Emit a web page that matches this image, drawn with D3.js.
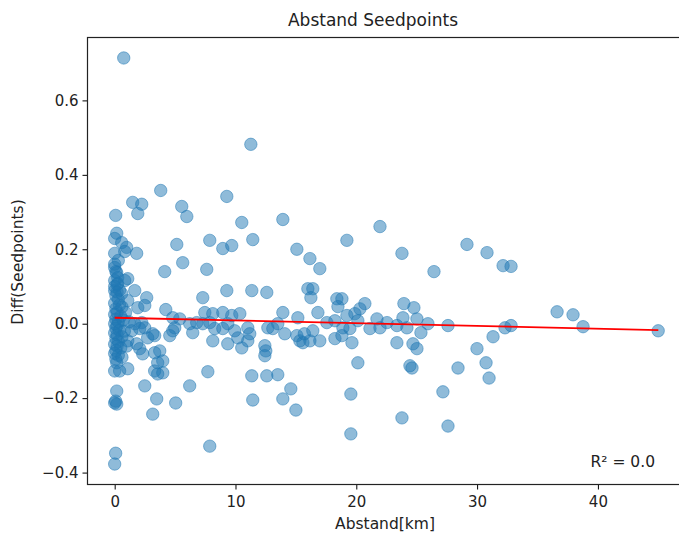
<!DOCTYPE html>
<html>
<head>
<meta charset="utf-8">
<script src="https://cdn.jsdelivr.net/npm/d3@7"></script>
<style>
  html, body { margin: 0; padding: 0; background: #fff; }
  svg { display: block; }
</style>
</head>
<body>
<svg id="chart" width="679" height="537"></svg>
<script>
// ---- data ----
const title = "Abstand Seedpoints";
const xLabel = "Abstand[km]";
const yLabel = "Diff(Seedpoints)";
const xTicks = [0, 10, 20, 30, 40];
const yTicks = [-0.4, -0.2, 0.0, 0.2, 0.4, 0.6];
const r2Text = "R² = 0.0";

const abstand = [
  0.75, 11.27, 3.81, 9.28, 1.49, 2.24, 1.91, 5.55, 5.97, 0.08,
  10.52, 13.92, 21.96, 19.22, 15.08, 16.16, 16.98, 23.78, 29.16, 30.82,
  32.15, 32.81, 26.43, 11.43, 7.87, 8.95, 9.69, 5.14, 5.63, 4.14,
  7.62, 0.17, 0.0, 0.58, 0.99, 0.83, 0.0, 1.82, 0.0, 0.17,
  0.25, 0.0, 0.25, 0.83, 1.08, 1.66, 2.65, 0.0, 0.58, 1.08,
  1.91, 2.49, 9.28, 11.35, 12.59, 7.29, 4.23, 4.81, 5.39, 4.97,
  4.81, 4.56, 7.46, 8.12, 8.95, 9.69, 10.36, 6.21, 6.79, 6.46,
  7.29, 7.87, 8.28, 8.95, 9.36, 9.94, 10.19, 11.02, 11.18, 11.02,
  10.52, 9.36, 8.12, 12.43, 12.51, 12.43, 12.68, 13.09, 13.50, 3.73,
  3.98, 3.98, 7.71, 11.35, 12.59, 13.50, 1.66, 2.24, 2.07, 3.15,
  2.73, 1.08, 1.82, 2.07, 2.32, 3.31, 0.17, 0.0, 0.41, 1.08,
  3.56, 3.31, 3.56, 2.49, 0.17, 6.21, 0.0, 0.17, 0.08, 3.48,
  5.05, 11.43, 3.15, 7.87, 0.08, 0.0,
  15.99, 16.40, 16.24, 18.39, 18.81, 18.48, 20.71, 20.30, 19.88, 23.94,
  24.77, 25.02, 13.92, 15.16, 16.82, 17.56, 19.22, 18.23, 18.89, 19.47,
  20.13, 21.13, 21.96, 22.54, 21.71, 23.36, 23.86, 24.19, 25.93, 27.59,
  25.35, 14.08, 15.08, 15.33, 15.58, 16.16, 16.40, 16.98, 18.23, 18.81,
  19.64, 23.36, 24.69, 25.02, 20.13, 24.44, 24.61, 28.42, 14.58, 13.92,
  15.00, 19.55, 27.17, 23.78, 27.59, 19.55,
  36.62, 37.94, 38.77, 44.99, 32.31, 32.81, 31.32, 29.99, 30.74, 30.99,
  1.41, 2.49, 3.31, 15.7,
  0.0, 0.2, 0.1, 0.3, 0.0, 0.4, 0.1, 0.2, 0.0, 0.5,
  0.1, 0.3, 0.0, 0.2, 0.1, 0.4, 0.0, 0.2, 0.6, 0.1,
  0.3, 0.0, 0.2, 0.5, 0.1, 0.0, 0.3, 0.1, 0.7, 0.8,
  0.9, 1.2, 1.0, 0.6, 0.4, 0.2, 0.6, 0.0, 0.3, 0.1
];
const diff = [
  0.714, 0.482, 0.358, 0.342, 0.326, 0.321, 0.296, 0.315, 0.288, 0.291,
  0.272, 0.280, 0.261, 0.224, 0.200, 0.175, 0.148, 0.189, 0.213, 0.191,
  0.156, 0.154, 0.140, 0.226, 0.224, 0.202, 0.210, 0.213, 0.164, 0.140,
  0.146, 0.243, 0.229, 0.218, 0.205, 0.194, 0.189, 0.189, 0.151, 0.137,
  0.124, 0.116, 0.108, 0.116, 0.121, 0.089, 0.070, 0.089, 0.081, 0.062,
  0.043, 0.049, 0.089, 0.089, 0.084, 0.070, 0.038, 0.016, 0.013, -0.011,
  -0.019, -0.032, 0.030, 0.027, 0.030, 0.022, 0.027, 0.000, 0.003, -0.024,
  0.000, 0.003, -0.013, -0.013, 0.000, -0.019, -0.038, -0.011, -0.027, -0.046,
  -0.065, -0.054, -0.046, -0.059, -0.073, -0.086, -0.011, -0.013, 0.000, -0.073,
  -0.100, -0.132, -0.129, -0.140, -0.140, -0.137, 0.000, 0.003, -0.013, -0.027,
  -0.038, -0.046, -0.054, -0.067, -0.081, -0.078, -0.105, -0.127, -0.127, -0.121,
  -0.105, -0.127, -0.135, -0.167, -0.181, -0.167, -0.213, -0.216, -0.208, -0.202,
  -0.213, -0.205, -0.243, -0.329, -0.348, -0.377,
  0.094, 0.094, 0.070, 0.067, 0.067, 0.046, 0.054, 0.040, 0.027, 0.054,
  0.043, 0.013, 0.030, 0.016, 0.030, 0.003, 0.022, 0.008, -0.011, -0.013,
  0.008, -0.013, -0.011, 0.003, 0.013, -0.005, 0.016, -0.011, 0.000, -0.005,
  -0.024, -0.027, -0.032, -0.046, -0.051, -0.046, -0.019, -0.046, -0.040, -0.032,
  -0.051, -0.051, -0.054, -0.067, -0.105, -0.113, -0.119, -0.119, -0.175, -0.202,
  -0.232, -0.189, -0.183, -0.253, -0.275, -0.296,
  0.032, 0.024, -0.008, -0.019, -0.011, -0.005, -0.035, -0.067, -0.105, -0.146,
  -0.019, -0.011, -0.032, -0.027,
  0.100, 0.085, 0.075, 0.065, 0.055, 0.050, 0.040, 0.030, 0.025, 0.020,
  0.012, 0.005, 0.000, -0.005, -0.012, -0.018, -0.025, -0.030, -0.035, -0.040,
  -0.048, -0.055, -0.060, -0.065, -0.072, -0.080, -0.085, -0.095, 0.010, -0.020,
  0.030, 0.005, -0.060, 0.045, 0.090, 0.105, -0.090, 0.160, 0.170, 0.140
];
const fitX = [0, 45];
const fitY = [0.016, -0.017];

(function () {
  // ---- layout ----
  const svg = d3.select("#chart");
  const W = 679, H = 537;
  const mLeft = 87.5, mTop = 37.5, mBottom = 484.5, mRight = 685.5;

  const x = d3.scaleLinear().domain([-2.25, 47.25]).range([mLeft, mRight]);
  const y = d3.scaleLinear().domain([-0.432, 0.769]).range([mBottom, mTop]);

  const font = "'DejaVu Sans', sans-serif";

  svg.append("rect").attr("width", W).attr("height", H).attr("fill", "#fff");

  // points
  svg.append("g")
    .selectAll("circle")
    .data(abstand.map((d, i) => [d, diff[i]]))
    .join("circle")
    .attr("cx", d => x(d[0]))
    .attr("cy", d => y(d[1]))
    .attr("r", 6.2)
    .attr("fill", "#1f77b4")
    .attr("fill-opacity", 0.5)
    .attr("stroke", "#1f77b4")
    .attr("stroke-opacity", 0.5)
    .attr("stroke-width", 1);

  // fit line
  svg.append("path")
    .datum(fitX.map((d, i) => [d, fitY[i]]))
    .attr("d", d3.line().x(d => x(d[0])).y(d => y(d[1])))
    .attr("fill", "none")
    .attr("stroke", "#ff0000")
    .attr("stroke-width", 1.8);

  // axes
  const xAxis = svg.append("g")
    .attr("transform", `translate(0,${mBottom})`)
    .call(d3.axisBottom(x).tickValues(xTicks).tickSize(5).tickPadding(7).tickFormat(d3.format("d")));
  const yAxis = svg.append("g")
    .attr("transform", `translate(${mLeft},0)`)
    .call(d3.axisLeft(y).tickValues(yTicks).tickSize(5).tickPadding(4)
      .tickFormat(d => d3.format(".1f")(d).replace("-", "\u2212")));

  [xAxis, yAxis].forEach(g => {
    g.select(".domain").remove();
    g.selectAll(".tick line").attr("stroke", "#000").attr("stroke-width", 1);
    g.selectAll(".tick text").attr("fill", "#222").style("font-family", font).style("font-size", "15px");
  });

  // spines
  svg.append("rect")
    .attr("x", mLeft).attr("y", mTop)
    .attr("width", mRight - mLeft).attr("height", mBottom - mTop)
    .attr("fill", "none").attr("stroke", "#222").attr("stroke-width", 1.2);

  // title & labels
  svg.append("text").attr("x", 373).attr("y", 26)
    .attr("text-anchor", "middle").attr("fill", "#222").style("font-family", font).style("font-size", "17px")
    .text(title);
  svg.append("text").attr("x", 385).attr("y", 529)
    .attr("text-anchor", "middle").attr("fill", "#222").style("font-family", font).style("font-size", "15.5px")
    .text(xLabel);
  svg.append("text")
    .attr("transform", `translate(23,${262}) rotate(-90)`)
    .attr("text-anchor", "middle").attr("fill", "#222").style("font-family", font).style("font-size", "15.5px")
    .text(yLabel);
  svg.append("text").attr("x", 655).attr("y", 467)
    .attr("text-anchor", "end").attr("fill", "#222").style("font-family", font).style("font-size", "15.5px")
    .text(r2Text);
})();
</script>
</body>
</html>
